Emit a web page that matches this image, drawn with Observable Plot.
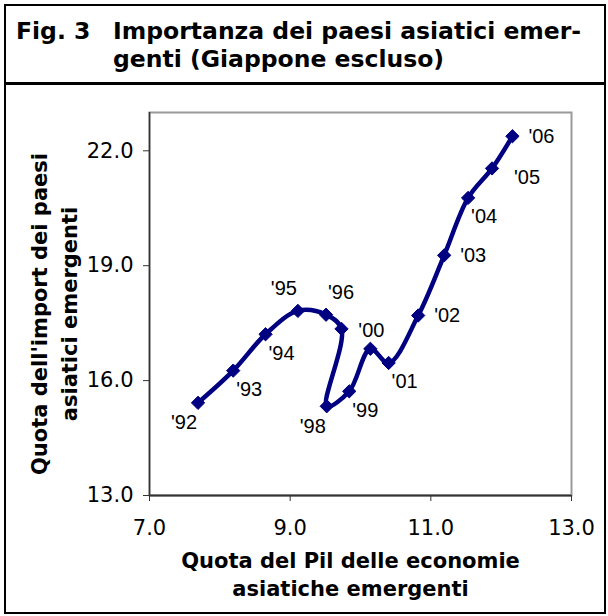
<!DOCTYPE html>
<html>
<head>
<meta charset="utf-8">
<script src="https://cdn.jsdelivr.net/npm/d3@7"></script>
<script src="https://cdn.jsdelivr.net/npm/@observablehq/plot@0.6"></script>
<style>
  html, body { margin: 0; padding: 0; background: #fff; }
  #page { position: relative; width: 608px; height: 616px; overflow: hidden; }
  #box { position: absolute; left: 4px; top: 4px; width: 602px; height: 610px; box-sizing: border-box; border: 2.5px solid #000; }
  #sep { position: absolute; left: 4px; top: 82px; width: 602px; height: 2.5px; background: #000; }
  .ttl { position: absolute; top: 17px; font-family: "DejaVu Sans", Verdana, sans-serif; font-weight: bold; font-size: 23.5px; line-height: 28px; color: #000; white-space: nowrap; }
  #fig { left: 16px; }
  #txt { left: 113px; }
  #chart { position: absolute; left: 0; top: 85px; }
</style>
</head>
<body>
<div id="page">
  <div id="box"></div>
  <div id="sep"></div>
  <div class="ttl" id="fig">Fig. 3</div>
  <div class="ttl" id="txt">Importanza dei paesi asiatici emer-<br>genti (Giappone escluso)</div>
  <div id="chart"></div>
</div>
<script>
const years = ["'92","'93","'94","'95","'96","'97","'98","'99","'00","'01","'02","'03","'04","'05","'06"];
const pilShare = [7.69, 8.19, 8.65, 9.11, 9.51, 9.73, 9.52, 9.84, 10.14, 10.40, 10.82, 11.19, 11.53, 11.87, 12.16];
const importShare = [15.42, 16.26, 17.21, 17.82, 17.72, 17.35, 15.33, 15.72, 16.83, 16.46, 17.70, 19.27, 20.77, 21.54, 22.38];
const labelSide = ["sw","se","se","nw","ne",null,"sw","se","n","se","e","e","se","ese","e"];
const xTicks = [7, 9, 11, 13];
const yTicks = [13, 16, 19, 22];
const xTitle = "Quota del Pil delle economie\nasiatiche emergenti";
const yTitle = "Quota dell'import dei paesi\nasiatici emergenti";

const data = years.map((y, i) => ({year: y, x: pilShare[i], y: importShare[i], side: labelSide[i]}));
const offsets = {
  sw: [-14, 20], se: [16, 19], nw: [-14, -22], ne: [15, -22],
  n: [1, -18], e: [29, 0], ese: [35, 9]
};
const labeled = data.filter(d => d.side).map(d => ({...d, dx: offsets[d.side][0], dy: offsets[d.side][1]}));

const navy = "#000080";
const chart = Plot.plot({
  width: 608,
  height: 527,
  marginLeft: 149,
  marginRight: 37,
  marginTop: 27,
  marginBottom: 117,
  style: {fontFamily: "'DejaVu Sans', Verdana, sans-serif", fontSize: "21px", color: "#000", background: "transparent"},
  x: {domain: [7, 13]},
  y: {domain: [13, 23]},
  marks: [
    Plot.frame({stroke: "#9a9a9a", strokeWidth: 2}),
    Plot.ruleX([7], {stroke: "#333", strokeWidth: 1.5}),
    Plot.ruleY([13], {stroke: "#333", strokeWidth: 2}),
    Plot.axisX({ticks: xTicks, tickFormat: d3.format(".1f"), tickSize: 6, tickPadding: 19, label: null, stroke: "#333", fontSize: 21}),
    Plot.axisY({ticks: yTicks, tickFormat: d3.format(".1f"), tickSize: 6, tickPadding: 10, label: null, stroke: "#333", fontSize: 21}),
    Plot.line(data, {x: "x", y: "y", stroke: navy, strokeWidth: 4.5, curve: "catmull-rom"}),
    Plot.dot(data, {x: "x", y: "y", symbol: "diamond2", r: 6, fill: navy, stroke: navy, strokeWidth: 1}),
    ...labeled.map(d => Plot.text([d], {x: "x", y: "y", text: "year", dx: d.dx, dy: d.dy, lineAnchor: "middle", textAnchor: "middle", fontFamily: "'Liberation Sans', Arial, sans-serif", fontSize: 20, fill: "#000"})),
    Plot.text([xTitle], {frameAnchor: "bottom", dx: -10, dy: 78, lineAnchor: "middle", textAnchor: "middle", lineHeight: 1.33, fontWeight: "bold", fontSize: 21, fontFamily: "'DejaVu Sans', Verdana, sans-serif", fill: "#000"}),
    Plot.text([yTitle], {frameAnchor: "left", rotate: -90, dx: -97, dy: 10, lineAnchor: "middle", textAnchor: "middle", lineHeight: 1.43, fontWeight: "bold", fontSize: 21, fontFamily: "'DejaVu Sans', Verdana, sans-serif", fill: "#000"})
  ]
});
document.getElementById("chart").appendChild(chart);
</script>
</body>
</html>
